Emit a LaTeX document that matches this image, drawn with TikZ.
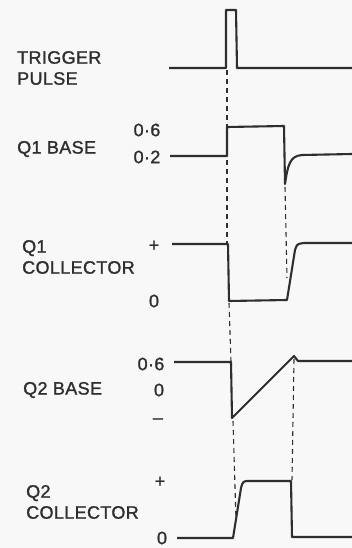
\documentclass[tikz,border=0pt]{standalone}
\usepackage{fontspec}
\setmainfont{Liberation Sans}
\newfontfamily\labelfont{Liberation Sans}[FakeBold=1.3,LetterSpace=2]
\usepackage{tikz}
\definecolor{ink}{HTML}{2E2E2E}
\definecolor{paper}{HTML}{F8F8F8}

\begin{document}
\begin{tikzpicture}[
  x=1pt,y=-1pt,
  wave/.style={draw=ink,line width=2.1pt,line join=round},
  guide/.style={draw=ink,line width=1.1pt,dash pattern=on 5pt off 4pt},
  signame/.style={anchor=west,align=left,inner sep=0pt,text=ink,
    font=\labelfont\fontsize{18}{21}\selectfont},
  levelmark/.style={inner sep=0pt,text=ink,font=\labelfont\fontsize{18}{21}\selectfont}
]
\fill[paper] (0,0) rectangle (352,548);
\useasboundingbox (0,0) rectangle (352,548);

% signal names
\node[signame] (trigname) at (17,68) {TRIGGER\\PULSE};
\node[signame] (qobname) at (17,149) {Q1 BASE};
\node[signame] (qocname) at (22,257) {Q1\\COLLECTOR};
\node[signame] (qtbname) at (23,390) {Q2 BASE};
\node[signame] (qtcname) at (26,502) {Q2\\COLLECTOR};

% level marks
\node[levelmark] (qobhigh) at (147,130) {0·6};
\node[levelmark] (qoblow) at (147,157) {0·2};
\node[levelmark] (qocplus) at (154,246) {+};
\node[levelmark] (qoczero) at (154,301) {0};
\node[levelmark] (qtbhigh) at (151,364) {0·6};
\node[levelmark] (qtbzero) at (159,390) {0};
\node[levelmark] (qtbminus) at (158,421) {–};
\node[levelmark] (qtcplus) at (160,482) {+};
\node[levelmark] (qtczero) at (162,538) {0};

% event points
\coordinate (trigstart) at (227,70);
\coordinate (qocfall) at (227,244);
\coordinate (qoclow) at (229,303);
\coordinate (qtbfall) at (231,362);
\coordinate (qtbdip) at (233,421);
\coordinate (qtcrise) at (236,520);
\coordinate (qobdip) at (285,187);
\coordinate (qocrise) at (287,278);
\coordinate (qtbpeak) at (294,359);
\coordinate (qtcfall) at (292,480);

% waveforms
\draw[wave] (169,68) -- (226,68) -- (226,10) -- (236,10) -- (237,68) -- (352,68);
\draw[wave] (170,156) -- (227,156) -- (227,127) -- (284,126) -- (285,184)
  .. controls (288,164) and (290,156) .. (302,155) -- (352,154);
\draw[wave] (172,244) -- (228,244) -- (229,301) -- (287,300) -- (295,250)
  .. controls (297,244) .. (304,243) -- (352,243);
\draw[wave] (174,362) -- (231,362) -- (232,418) -- (294,356) -- (298,361) -- (352,361);
\draw[wave] (177,538) -- (233,538) -- (241,488) .. controls (243,481) .. (250,481)
  -- (291,481) -- (292,537) -- (352,537);

% timing guides
\draw[guide] (trigstart) -- (qocfall);
\draw[guide] (qoclow) -- (qtbfall);
\draw[guide] (qtbdip) -- (qtcrise);
\draw[guide] (qobdip) -- (qocrise);
\draw[guide] (qtbpeak) -- (qtcfall);
\end{tikzpicture}
\end{document}
